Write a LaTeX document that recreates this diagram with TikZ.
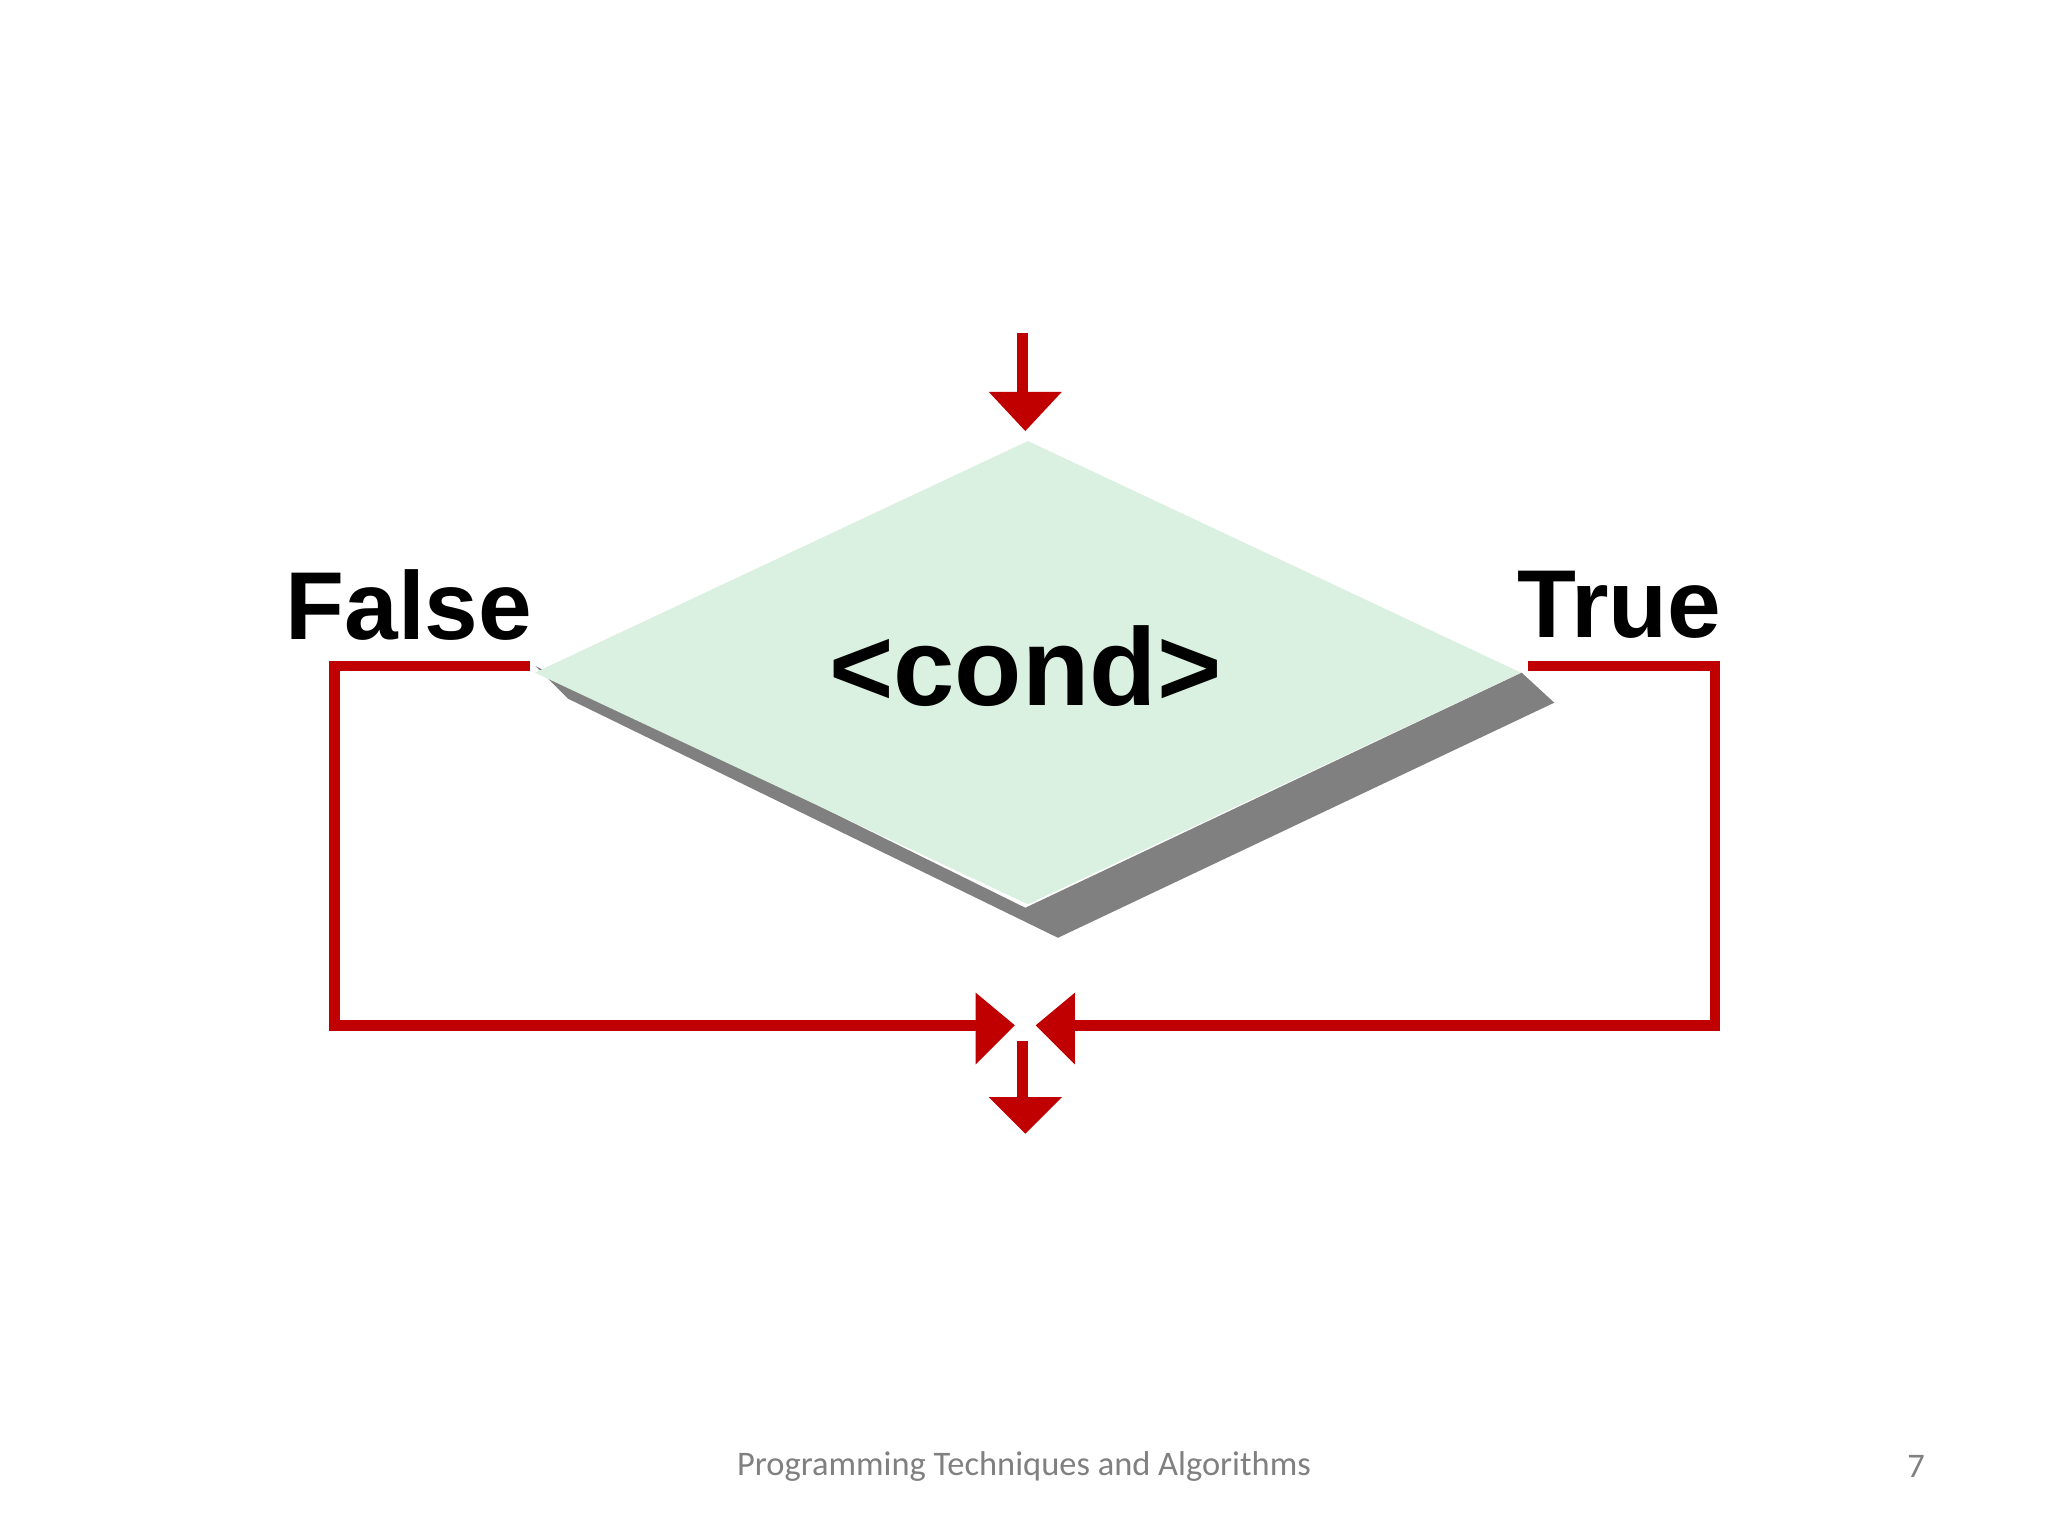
\documentclass[tikz,border=0pt]{standalone}
\usepackage{fontspec}
\setmainfont{Liberation Sans}
\newfontfamily\foot{Carlito}
\usetikzlibrary{shapes.geometric}
\definecolor{fred}{RGB}{192,0,0}
\definecolor{dfill}{RGB}{218,240,224}
\definecolor{shad}{RGB}{128,128,128}
\begin{document}
\begin{tikzpicture}[x=0.01cm,y=-0.01cm,
  redline/.style={draw=fred,line width=0.08cm},
  redhead/.style={fill=fred,draw=none},
  lbl/.style={font=\bfseries\fontsize{21}{24}\selectfont}]
\useasboundingbox (0,0) rectangle (1568,1176);
\fill[white] (0,0) rectangle (1568,1176);
% shadow
\fill[shad] (435,535) -- (810,718) -- (1190,538) -- (1165,515) -- (785,695) -- (410,510) -- cycle;
\node[diamond,draw=none,fill=dfill,minimum width=7.55cm,minimum height=3.55cm,inner sep=0pt,aspect=2.1] (d) at (787,515) {};
\node[font=\bfseries\fontsize{24}{28}\selectfont] (c) at (785,510) {<cond>};
\node[lbl] (f) at (313,463) {False};
\node[lbl] (t) at (1240,463) {True};
% top arrow
\coordinate (tin) at (783,255);
\coordinate (ttip) at (785,330);
\draw[redline] (tin) -- (783,302);
\fill[redhead] (757,300) -- (813,300) -- (ttip) -- cycle;
% false path
\coordinate (fl) at (406,510);
\draw[redline] (fl) -- (256,510) -- (256,785) -- (750,785);
\fill[redhead] (747,760) -- (777,785) -- (747,815) -- cycle;
% true path
\coordinate (tr) at (1170,510);
\draw[redline] (tr) -- (1313,510) -- (1313,785) -- (820,785);
\fill[redhead] (823,760) -- (793,785) -- (823,815) -- cycle;
% bottom arrow
\coordinate (bo) at (783,797);
\draw[redline] (bo) -- (783,842);
\fill[redhead] (757,840) -- (813,840) -- (785,868) -- cycle;
\node[font=\foot\fontsize{7.5}{9}\selectfont,text=gray] (ft) at (784,1123) {Programming Techniques and Algorithms};
\node[font=\foot\fontsize{7.5}{9}\selectfont,text=gray] (pg) at (1467,1123) {7};
\end{tikzpicture}
\end{document}
